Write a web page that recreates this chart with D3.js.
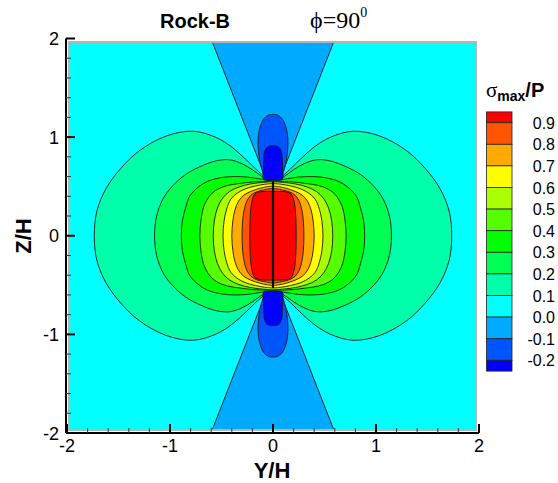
<!DOCTYPE html>
<html><head><meta charset="utf-8">
<script src="https://cdn.jsdelivr.net/npm/d3@7"></script>
<style>body{margin:0;background:#fff}svg{display:block}</style>
</head><body>
<svg id="chart" width="558" height="483"></svg>
<script>
// ---- data (Y/H, Z/H) ----
const levels = [-0.2,-0.1,0.0,0.1,0.2,0.3,0.4,0.5,0.6,0.7,0.8,0.9];
const bandColors = ['#0000ff','#0055ff','#00aaff','#00ffff','#00ffaa','#00ff55','#00ff00','#55ff00','#aaff00','#ffff00','#ffaa00','#ff5500','#ff0000'];
const xTicks = [-2,-1,0,1,2];
const yTicks = [-2,-1,0,1,2];
// quadrant outlines of positive contours: from equator (Z=0) to crack tip (Y=0)
const c01 = [[1.735,0],[1.71,0.25],[1.62,0.48],[1.48,0.68],[1.30,0.86],[1.04,1.01],[0.78,1.06],[0.56,1.0],[0.40,0.90],[0.26,0.77],[0.14,0.65],[0.05,0.575],[0,0.555]];
const c02 = [[1.15,0],[1.13,0.2],[1.07,0.37],[0.98,0.50],[0.85,0.62],[0.71,0.70],[0.55,0.76],[0.42,0.77],[0.30,0.73],[0.20,0.67],[0.12,0.61],[0.05,0.57],[0,0.558]];
const c03 = [[0.89,0],[0.88,0.15],[0.85,0.28],[0.81,0.40],[0.73,0.49],[0.64,0.55],[0.50,0.59],[0.38,0.60],[0.25,0.595],[0.12,0.575],[0,0.556]];
const c04 = [[0.71,0],[0.70,0.15],[0.67,0.30],[0.61,0.41],[0.54,0.47],[0.44,0.51],[0.32,0.53],[0.20,0.545],[0.11,0.55],[0,0.553]];
const c05 = [[0.58,0],[0.57,0.15],[0.54,0.28],[0.49,0.38],[0.42,0.45],[0.33,0.495],[0.22,0.525],[0.11,0.54],[0,0.548]];
const c06 = [[0.485,0],[0.475,0.15],[0.45,0.27],[0.41,0.37],[0.35,0.43],[0.27,0.475],[0.17,0.505],[0.08,0.522],[0,0.53]];
const c07 = [[0.40,0],[0.39,0.15],[0.37,0.26],[0.335,0.35],[0.285,0.41],[0.215,0.45],[0.13,0.48],[0.06,0.497],[0,0.505]];
const c08 = [[0.30,0],[0.295,0.15],[0.28,0.26],[0.255,0.35],[0.215,0.41],[0.16,0.445],[0.09,0.465],[0.04,0.475],[0,0.48]];
const c09 = [[0.225,0],[0.223,0.15],[0.215,0.28],[0.20,0.37],[0.175,0.425],[0.13,0.445],[0.06,0.45],[0,0.45]];
// negative regions above the crack tip (right half, bottom to top), mirrored below
const wedgeEdge = [[0.64,2.1],[0.07,0.58]];
const bulletMid = [[0,0.575],[0.07,0.585],[0.11,0.68],[0.135,0.80],[0.145,0.93],[0.14,1.03],[0.12,1.12],[0.085,1.19],[0.04,1.225],[0,1.23]];
const bulletDeep = [[0,0.565],[0.09,0.57],[0.095,0.65],[0.09,0.76],[0.085,0.84],[0.06,0.895],[0.03,0.91],[0,0.912]];
const crack = [[0,-0.53],[0,0.55]];

const positiveContours = [c01,c02,c03,c04,c05,c06,c07,c08,c09];

// ---- drawing ----
const svg = d3.select('#chart');
const x = d3.scaleLinear().domain([-2,2]).range([67,479]);
const y = d3.scaleLinear().domain([-2,2]).range([433,38.5]);
const color = d3.scaleThreshold().domain(levels).range(bandColors);

const smooth = d3.line().x(d=>x(d[0])).y(d=>y(d[1])).curve(d3.curveCatmullRom.alpha(0.5));
const straight = d3.line().x(d=>x(d[0])).y(d=>y(d[1]));

const defs = svg.append('defs');
defs.append('clipPath').attr('id','plotclip').append('rect')
  .attr('x',70).attr('y',43).attr('width',405).attr('height',386);

svg.append('rect').attr('x',69).attr('y',42).attr('width',407).attr('height',388)
  .attr('fill', color(0.05));

const g = svg.append('g').attr('clip-path','url(#plotclip)');
const lineStyle = s => s.attr('fill','none').attr('stroke','#1a1a1a').attr('stroke-width',0.9);

function halves(q){
  const R = q.slice().reverse().concat(q.slice(1).map(d=>[d[0],-d[1]]));
  const L = R.map(d=>[-d[0],d[1]]);
  return [R,L];
}
positiveContours.forEach((q,i)=>{
  const [R,L] = halves(q);
  const lev = levels[3+i];
  g.append('path').attr('d', smooth(R)+smooth(L)).attr('fill', color(lev+0.05)).attr('stroke','none');
  g.append('path').attr('d', smooth(R)+smooth(L)).call(lineStyle);
});

[1,-1].forEach(s=>{
  const e = wedgeEdge.map(d=>[d[0], s*d[1]]);
  const poly = [[-e[0][0],e[0][1]], e[0], e[1], [-e[1][0],e[1][1]]];
  g.append('path').attr('d', straight(poly)+'Z').attr('fill', color(-0.05));
  g.append('path').attr('d', straight(e)+straight(e.map(d=>[-d[0],d[1]]))).call(lineStyle);
  [[bulletMid,-0.15],[bulletDeep,-0.25]].forEach(([b,v])=>{
    const R = b.map(d=>[d[0], s*d[1]]);
    const L = R.map(d=>[-d[0],d[1]]);
    g.append('path').attr('d', smooth(R)+smooth(L)).attr('fill', color(v));
    g.append('path').attr('d', smooth(R)+smooth(L)).call(lineStyle);
  });
});
g.append('path').attr('d', straight(crack)).attr('stroke','#000').attr('stroke-width',2.2).attr('fill','none');

// frame
svg.append('rect').attr('x',69).attr('y',42).attr('width',407).attr('height',388)
  .attr('fill','none').attr('stroke','#b4b4b4').attr('stroke-width',2);

// axes
const ax = svg.append('g');
ax.append('line').attr('x1',66).attr('x2',66).attr('y1',y(2)).attr('y2',433).attr('stroke','#000').attr('stroke-width',2);
ax.append('line').attr('x1',66).attr('x2',x(2)).attr('y1',433).attr('y2',433).attr('stroke','#000').attr('stroke-width',2);
const minor = d3.range(-2,2.001,0.2).filter(v=>Math.abs(v-Math.round(v))>1e-6);
minor.forEach(v=>{
  ax.append('line').attr('x1',66).attr('x2',71).attr('y1',y(v)).attr('y2',y(v)).attr('stroke','#333').attr('stroke-width',1);
  ax.append('line').attr('x1',x(v)).attr('x2',x(v)).attr('y1',433).attr('y2',428).attr('stroke','#333').attr('stroke-width',1);
});
yTicks.forEach(v=>{
  ax.append('line').attr('x1',66).attr('x2',75).attr('y1',y(v)).attr('y2',y(v)).attr('stroke','#000').attr('stroke-width',2);
  ax.append('text').attr('x',59).attr('y',y(v)+6.5).attr('text-anchor','end')
    .attr('font-family','Liberation Sans, Arial, sans-serif').attr('font-size',18).text(v);
});
xTicks.forEach(v=>{
  ax.append('line').attr('x1',x(v)).attr('x2',x(v)).attr('y1',433).attr('y2',424).attr('stroke','#000').attr('stroke-width',2);
  ax.append('text').attr('x',x(v)).attr('y',452).attr('text-anchor','middle')
    .attr('font-family','Liberation Sans, Arial, sans-serif').attr('font-size',18).text(v);
});
svg.append('text').attr('x',272).attr('y',478).attr('text-anchor','middle')
  .attr('font-family','Liberation Sans, Arial, sans-serif').attr('font-weight','bold').attr('font-size',22).text('Y/H');
svg.append('text').attr('transform','translate(31,236) rotate(-90)').attr('text-anchor','middle')
  .attr('font-family','Liberation Sans, Arial, sans-serif').attr('font-weight','bold').attr('font-size',22).text('Z/H');

// titles
svg.append('text').attr('x',160).attr('y',28).attr('font-family','Liberation Sans, Arial, sans-serif')
  .attr('font-weight','bold').attr('font-size',20).text('Rock-B');
const phi = svg.append('text').attr('x',310).attr('y',28).attr('font-family','Liberation Serif, DejaVu Serif, serif').attr('font-size',24);
phi.append('tspan').text('\u03d5=90');
phi.append('tspan').attr('font-size',14).attr('dy',-11).text('0');

// legend
const lt = svg.append('text').attr('x',486).attr('y',97).attr('font-family','Liberation Sans, Arial, sans-serif').attr('font-weight','bold').attr('font-size',20);
lt.append('tspan').attr('font-family','Liberation Serif, Times New Roman, serif').attr('font-weight','normal').attr('font-size',21).text('\u03c3');
lt.append('tspan').attr('font-size',14).attr('dy',4).text('max');
lt.append('tspan').attr('dy',-4).text('/P');

const boxTop = 122.7, boxH = 21.6, bx = 486.5, bw = 25.5;
const legendLevels = levels.slice().reverse();
const lg = svg.append('g');
bandColors.slice().reverse().forEach((c,i)=>{
  let y0, h;
  if(i===0){ y0 = boxTop - boxH/2; h = boxH/2; }
  else if(i===bandColors.length-1){ y0 = boxTop + (i-1)*boxH; h = boxH/2; }
  else { y0 = boxTop + (i-1)*boxH; h = boxH; }
  lg.append('rect').attr('x',bx).attr('y',y0).attr('width',bw).attr('height',h)
    .attr('fill',c).attr('stroke','#222').attr('stroke-width',0.8);
});
legendLevels.forEach((v,i)=>{
  lg.append('text').attr('x',555).attr('y',boxTop + i*boxH + 6).attr('text-anchor','end')
    .attr('font-family','Liberation Sans, Arial, sans-serif').attr('font-size',16).text(v.toFixed(1));
});
</script>
</body></html>
